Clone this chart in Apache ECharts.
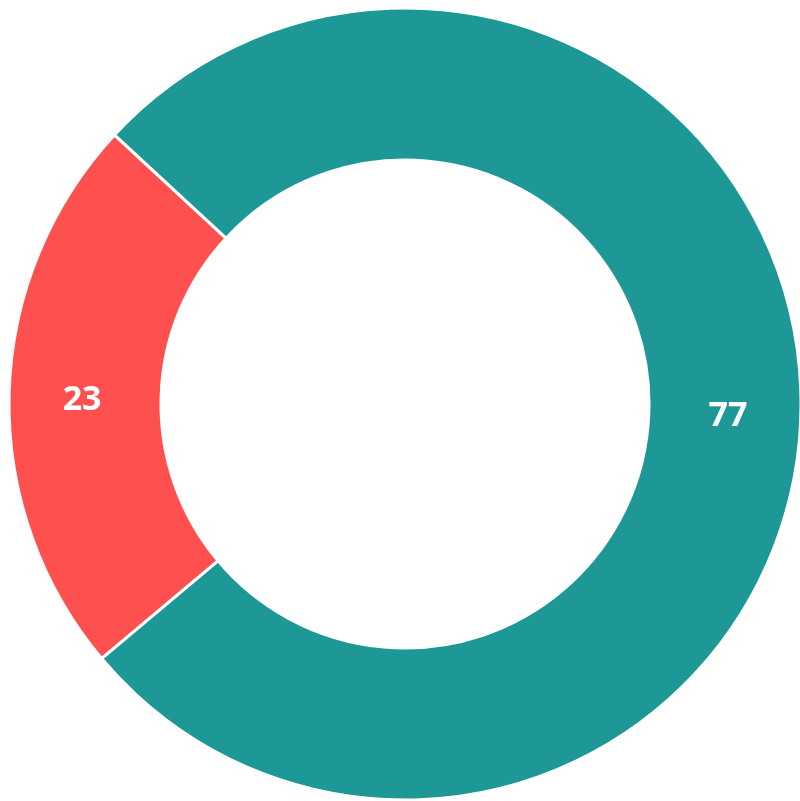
<!DOCTYPE html>
<html>
<head>
<meta charset="utf-8">
<script src="https://cdn.jsdelivr.net/npm/echarts@6/dist/echarts.min.js"></script>
<style>html,body{margin:0;padding:0;background:#fff}#chart{width:800px;height:801px}</style>
</head>
<body>
<div id="chart"></div>
<script>
var categories = ['A', 'B'];
var values = [23, 77];
var colors = ['#FF5050', '#1E9896'];

var chart = echarts.init(document.getElementById('chart'), null, {renderer: 'canvas'});
chart.setOption({
  animation: false,
  series: [{
    type: 'pie',
    center: [405, 404],
    radius: [244, 396],
    startAngle: 220,
    clockwise: true,
    avoidLabelOverlap: false,
    itemStyle: { borderColor: '#fff', borderWidth: 3 },
    label: {
      show: true,
      position: 'inside',
      formatter: '{c}',
      color: '#fff',
      fontFamily: 'Open Sans',
      fontWeight: 'bold',
      fontSize: 34
    },
    labelLayout: { dy: 4 },
    labelLine: { show: false },
    emphasis: { disabled: true },
    data: categories.map(function (c, i) {
      return { name: c, value: values[i], itemStyle: { color: colors[i] } };
    })
  }]
});
</script>
</body>
</html>
